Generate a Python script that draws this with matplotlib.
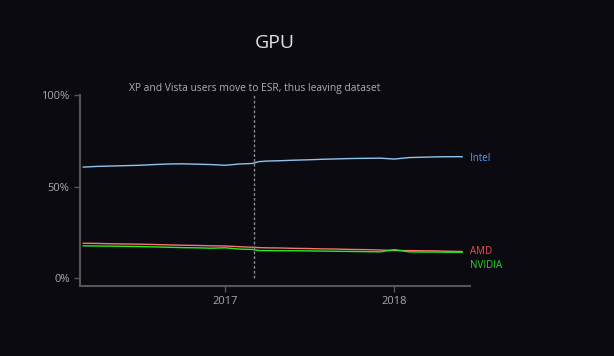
import matplotlib
matplotlib.use("Agg")
import matplotlib.pyplot as plt
import numpy as np
import datetime as dt

plt.rcParams['font.family'] = ['Open Sans', 'DejaVu Sans']

dates = ["2016-03-01", "2016-04-01", "2016-05-01", "2016-06-01", "2016-07-01", "2016-08-01",
         "2016-09-01", "2016-10-01", "2016-11-01", "2016-12-01", "2017-01-01", "2017-02-01",
         "2017-03-01", "2017-03-15", "2017-04-01", "2017-05-01", "2017-06-01", "2017-07-01",
         "2017-08-01", "2017-09-01", "2017-10-01", "2017-11-01", "2017-12-01", "2018-01-01",
         "2018-02-01", "2018-03-01", "2018-04-01", "2018-05-01", "2018-05-27"]
intel = [60.6, 61.0, 61.2, 61.4, 61.6, 62.0, 62.3, 62.4, 62.2, 62.0, 61.6, 62.3,
         62.6, 63.6, 63.9, 64.1, 64.4, 64.6, 64.9, 65.1, 65.3, 65.4, 65.5, 65.0,
         65.8, 66.0, 66.2, 66.3, 66.3]
amd = [19.0, 18.9, 18.7, 18.6, 18.5, 18.3, 18.1, 17.9, 17.8, 17.6, 17.5, 17.1,
       16.8, 16.6, 16.5, 16.4, 16.2, 16.1, 15.9, 15.8, 15.6, 15.5, 15.3, 15.0,
       15.0, 14.9, 14.8, 14.6, 14.5]
nvidia = [17.6, 17.5, 17.4, 17.3, 17.2, 17.0, 16.8, 16.6, 16.5, 16.3, 16.5, 15.8,
          15.6, 15.0, 15.0, 14.9, 14.9, 14.8, 14.7, 14.6, 14.5, 14.4, 14.3, 15.5,
          14.3, 14.2, 14.2, 14.1, 14.1]
series = [("Intel", intel, "#8ec5f0", "#5b9cff"),
          ("AMD", amd, "#ff7070", "#ff4a4a"),
          ("NVIDIA", nvidia, "#22ee22", "#22dd22")]
event_date = "2017-03-05"
event_text = "XP and Vista users move to ESR, thus leaving dataset"
yticks = [0, 50, 100]
ytick_labels = ["0%", "50%", "100%"]
xticks = ["2017-01-01", "2018-01-01"]
xtick_labels = ["2017", "2018"]

bg = "#0a0a10"
fig = plt.figure(figsize=(6.14, 3.56), dpi=100, facecolor=bg)
ax = fig.add_axes([80/614, 1-285.7/356, 390/614, 190.7/356], facecolor=bg)

x = [dt.datetime.strptime(d, "%Y-%m-%d") for d in dates]
for name, vals, lc, tc in series:
    ax.plot(x, vals, color=lc, lw=1.0)
dy = {"Intel": -1, "AMD": 0, "NVIDIA": -9.5}
for name, vals, lc, tc in series:
    ax.annotate(name, xy=(x[-1], vals[-1]), xytext=(5.5, dy[name]), textcoords="offset points",
                color=tc, fontsize=7, va="center", ha="left", annotation_clip=False)

ed = dt.datetime.strptime(event_date, "%Y-%m-%d")
ax.plot([ed, ed], [0, 100], color="#888888", lw=1, ls=(0, (2, 1.5)))
ax.text(ed, 103.3, event_text, color="#b0b0b0", fontsize=7.4, ha="center", va="center")

ax.set_xlim(dt.datetime(2016, 2, 23), dt.datetime(2018, 6, 13))
ax.set_ylim(-4.2, 100)
ax.set_yticks(yticks)
ax.set_yticklabels(ytick_labels)
ax.set_xticks([dt.datetime.strptime(d, "%Y-%m-%d") for d in xticks])
ax.set_xticklabels(xtick_labels)

for s in ["top", "right"]:
    ax.spines[s].set_visible(False)
for s in ["left", "bottom"]:
    ax.spines[s].set_color("#555555")
    ax.spines[s].set_linewidth(1.5)
ax.tick_params(colors="#555555", length=4, width=1, labelsize=8)
for lab in ax.get_xticklabels() + ax.get_yticklabels():
    lab.set_color("#a6a9b4")

fig.text(275/614, 1-43/356, "GPU", color="#e0e0e0", fontsize=14, ha="center", va="center")

fig.savefig("out.png", dpi=100, facecolor=bg)
